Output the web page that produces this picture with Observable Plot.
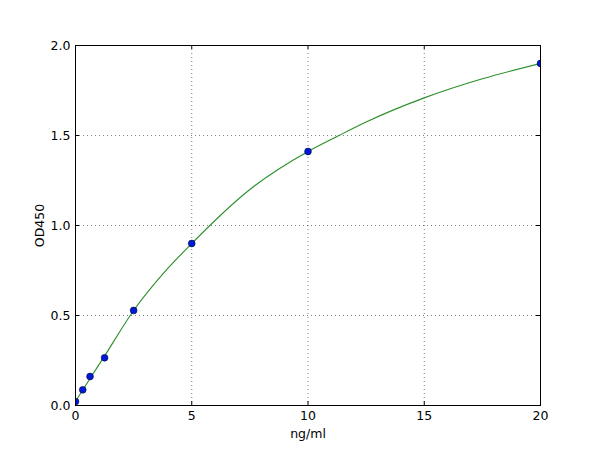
<!DOCTYPE html>
<html>
<head>
<meta charset="utf-8">
<script src="https://cdn.jsdelivr.net/npm/d3@7"></script>
<script src="https://cdn.jsdelivr.net/npm/@observablehq/plot@0.6"></script>
<style>
  body { margin: 0; background: #fff; }
  #chart svg { font-family: "DejaVu Sans", sans-serif; }
</style>
</head>
<body>
<div id="chart"></div>
<script>
// Standard points (concentration ng/ml, OD450)
const conc = [0, 0.3125, 0.625, 1.25, 2.5, 5, 10, 20];
const od = [0.022, 0.087, 0.161, 0.265, 0.528, 0.9, 1.411, 1.9];

// Fitted curve
const curveX = [0, 0.625, 1.25, 2.5, 3.75, 5, 7.5, 10, 11.33, 12.5, 15, 17.5, 20];
const curveY = [0.022, 0.15, 0.275, 0.528, 0.73, 0.9, 1.2, 1.411, 1.5, 1.575, 1.709, 1.815, 1.9];

const xTicks = [0, 5, 10, 15, 20];
const yTicks = [0, 0.5, 1.0, 1.5, 2.0];

const points = conc.map((c, i) => ({x: c, y: od[i]}));
const curve = curveX.map((c, i) => ({x: c, y: curveY[i]}));

const W = 600, H = 450, mL = 75, mR = 60, mT = 45, mB = 45;
const fw = W - mL - mR, fh = H - mT - mB;

const chart = Plot.plot({
  width: W,
  height: H,
  marginLeft: mL,
  marginRight: mR,
  marginTop: mT,
  marginBottom: mB,
  style: {fontSize: "12.5px", fontFamily: "DejaVu Sans, sans-serif", color: "#000", background: "#fff", overflow: "visible"},
  x: {domain: [0, 20]},
  y: {domain: [0, 2]},
  marks: [
    Plot.gridX(xTicks, {stroke: "#000", strokeOpacity: 0.5, strokeDasharray: "1,3", strokeWidth: 1}),
    Plot.gridY(yTicks, {stroke: "#000", strokeOpacity: 0.5, strokeDasharray: "1,3", strokeWidth: 1}),
    Plot.axisX(xTicks, {tickSize: 0, tickPadding: 6, tickFormat: d3.format("d"), label: "ng/ml", labelAnchor: "center", labelArrow: "none", labelOffset: 32, fontSize: 12.5}),
    Plot.axisY(yTicks, {tickSize: 0, tickPadding: 5, tickFormat: d3.format(".1f"), label: "OD450", labelAnchor: "center", labelArrow: "none", labelOffset: 40, fontSize: 12.5}),
    Plot.tickX(xTicks, {x: d => d, insetTop: fh - 4, stroke: "#000"}),
    Plot.tickX(xTicks, {x: d => d, insetBottom: fh - 4, stroke: "#000"}),
    Plot.tickY(yTicks, {y: d => d, insetRight: fw - 4, stroke: "#000"}),
    Plot.tickY(yTicks, {y: d => d, insetLeft: fw - 4, stroke: "#000"}),
    Plot.line(curve, {x: "x", y: "y", curve: "monotone-x", stroke: "#2a8f2a", strokeWidth: 1.1, clip: true}),
    Plot.dot(points, {x: "x", y: "y", r: 3.4, fill: "#0018d8", stroke: "#00083a", strokeWidth: 0.6, clip: true}),
    Plot.frame({stroke: "#000", strokeWidth: 1})
  ]
});
document.getElementById("chart").appendChild(chart);
</script>
</body>
</html>
